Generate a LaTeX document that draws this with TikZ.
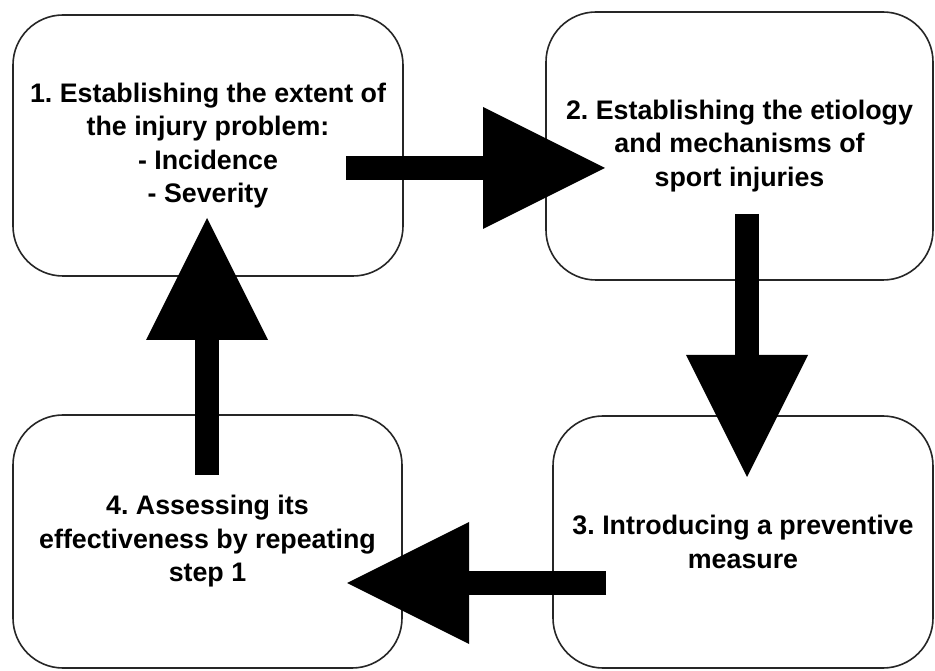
\documentclass[tikz,border=0pt]{standalone}
\usepackage{fontspec}
\setmainfont{Liberation Sans}
\usetikzlibrary{arrows.meta}
\frenchspacing
\begin{document}
\begin{tikzpicture}[x=1pt,y=1pt,
  box/.style={draw=black!85, line width=1.6pt, rounded corners=50pt, align=center,
    font=\frenchspacing\bfseries\fontsize{26.8}{33.5}\selectfont, inner sep=0pt},
  blockarrow/.style={black, line width=24pt,
    -{Triangle[length=122pt,width=122pt,line width=0pt]}}]
\useasboundingbox (0,0) rectangle (935,670);
\fill[white] (0,0) rectangle (935,670);
\node[box, minimum width=390pt, minimum height=261pt] (n1) at (208,524.5)
  {\raisebox{-2pt}{}1. Establishing the extent of\\the injury problem:\\- Incidence\\- Severity};
\node[box, minimum width=387pt, minimum height=268pt] (n2) at (739.5,524)
  {2. Establishing the etiology\\and mechanisms of\\sport injuries};
\node[box, minimum width=380pt, minimum height=252pt] (n3) at (743,128)
  {3. Introducing a preventive\\measure};
\node[box, minimum width=389pt, minimum height=253pt] (n4) at (207.5,128.5)
  {4. Assessing its\\effectiveness by repeating\\step 1};
\coordinate (a1s) at (346,502);
\coordinate (a1e) at (605,502);
\coordinate (a2s) at (747,456);
\coordinate (a2e) at (747,193);
\coordinate (a3s) at (606,87);
\coordinate (a3e) at (347,87);
\coordinate (a4s) at (207,195);
\coordinate (a4e) at (207,452);
\draw[blockarrow] (a1s) -- (a1e);
\draw[blockarrow] (a2s) -- (a2e);
\draw[blockarrow] (a3s) -- (a3e);
\draw[blockarrow] (a4s) -- (a4e);
\end{tikzpicture}
\end{document}
